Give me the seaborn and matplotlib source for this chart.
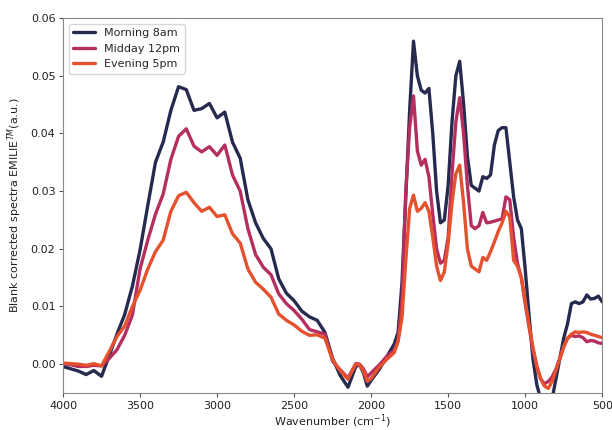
import numpy as np
import pandas as pd
import matplotlib
matplotlib.use("Agg")
import matplotlib.pyplot as plt
import seaborn as sns

# nombres d'onde (cm-1)
wavenumber = [4000, 3950, 3900, 3850, 3800, 3750, 3700, 3650, 3600, 3550,
              3500, 3450, 3400, 3350, 3300, 3250, 3200, 3150, 3100, 3050,
              3000, 2950, 2900, 2850, 2800, 2750, 2700, 2650, 2600, 2550,
              2500, 2450, 2400, 2350, 2300, 2250, 2200, 2150, 2100, 2075,
              2050, 2025, 2000, 1950, 1900, 1850, 1825, 1800, 1775, 1750,
              1725, 1700, 1675, 1650, 1625, 1600, 1575, 1550, 1525, 1500,
              1475, 1450, 1425, 1400, 1375, 1350, 1325, 1300, 1275, 1250,
              1225, 1200, 1175, 1150, 1125, 1100, 1075, 1050, 1025, 1000,
              975, 950, 925, 900, 875, 850, 825, 800, 775, 750,
              725, 700, 675, 650, 625, 600, 575, 550, 525, 500]

morning = [-0.0004, -0.0008, -0.0012, -0.0018, -0.0011, -0.0021, 0.0015, 0.0052, 0.0086, 0.0135,
           0.0198, 0.0275, 0.0350, 0.0385, 0.0440, 0.0481, 0.0476, 0.0440, 0.0443, 0.0452,
           0.0427, 0.0437, 0.0385, 0.0357, 0.0285, 0.0245, 0.0218, 0.0200, 0.0148, 0.0123,
           0.0110, 0.0092, 0.0082, 0.0076, 0.0055, 0.0010, -0.0020, -0.0040, -0.0004, -0.0001,
           -0.0015, -0.0038, -0.0028, -0.0010, 0.0012, 0.0035, 0.0055, 0.0140, 0.0290, 0.0440,
           0.0560, 0.0500, 0.0475, 0.0470, 0.0478, 0.0400, 0.0300, 0.0245, 0.0250, 0.0310,
           0.0420, 0.0500, 0.0525, 0.0452, 0.0360, 0.0310, 0.0305, 0.0300, 0.0325, 0.0322,
           0.0328, 0.0380, 0.0405, 0.0410, 0.0410, 0.0350, 0.0290, 0.0250, 0.0235, 0.0165,
           0.0085, 0.0010, -0.0035, -0.0060, -0.0075, -0.0080, -0.0060, -0.0025, 0.0010, 0.0045,
           0.0070, 0.0105, 0.0108, 0.0105, 0.0108, 0.0120, 0.0113, 0.0114, 0.0118, 0.0108]

midday = [0.0001, -0.0001, -0.0004, -0.0004, -0.0002, -0.0003, 0.0010, 0.0025, 0.0050, 0.0085,
          0.0165, 0.0215, 0.0260, 0.0295, 0.0355, 0.0395, 0.0408, 0.0378, 0.0368, 0.0377,
          0.0362, 0.0380, 0.0328, 0.0300, 0.0235, 0.0190, 0.0168, 0.0155, 0.0122, 0.0105,
          0.0093, 0.0078, 0.0060, 0.0056, 0.0052, 0.0005, -0.0010, -0.0024, 0.0001, 0.0000,
          -0.0008, -0.0022, -0.0015, -0.0002, 0.0013, 0.0024, 0.0040, 0.0110, 0.0300, 0.0410,
          0.0465, 0.0370, 0.0345, 0.0355, 0.0325, 0.0260, 0.0200, 0.0175, 0.0180, 0.0220,
          0.0330, 0.0420, 0.0462, 0.0400, 0.0310, 0.0240, 0.0235, 0.0240, 0.0263, 0.0245,
          0.0246, 0.0248, 0.0250, 0.0252, 0.0290, 0.0285, 0.0220, 0.0175, 0.0150, 0.0105,
          0.0065, 0.0025, -0.0005, -0.0025, -0.0034, -0.0030, -0.0022, -0.0008, 0.0010, 0.0030,
          0.0045, 0.0050, 0.0048, 0.0049, 0.0046, 0.0039, 0.0041, 0.0040, 0.0037, 0.0036]

evening = [0.0002, 0.0001, 0.0000, -0.0002, 0.0001, -0.0003, 0.0022, 0.0048, 0.0066, 0.0100,
           0.0128, 0.0165, 0.0195, 0.0215, 0.0265, 0.0292, 0.0298, 0.0280, 0.0265, 0.0272,
           0.0256, 0.0259, 0.0226, 0.0210, 0.0165, 0.0142, 0.0130, 0.0116, 0.0087, 0.0076,
           0.0068, 0.0057, 0.0050, 0.0051, 0.0045, 0.0008, -0.0012, -0.0026, 0.0000, -0.0001,
           -0.0012, -0.0030, -0.0025, -0.0006, 0.0008, 0.0020, 0.0040, 0.0080, 0.0180, 0.0270,
           0.0293, 0.0265, 0.0270, 0.0280, 0.0265, 0.0220, 0.0170, 0.0145, 0.0160, 0.0210,
           0.0280, 0.0330, 0.0345, 0.0280, 0.0200, 0.0170, 0.0165, 0.0160, 0.0185, 0.0180,
           0.0195, 0.0212, 0.0230, 0.0245, 0.0265, 0.0255, 0.0180, 0.0170, 0.0150, 0.0110,
           0.0068, 0.0030, -0.0002, -0.0025, -0.0038, -0.0042, -0.0030, -0.0010, 0.0010, 0.0030,
           0.0045, 0.0052, 0.0056, 0.0055, 0.0056, 0.0055, 0.0052, 0.0050, 0.0048, 0.0046]

labels = ["Morning 8am", "Midday 12pm", "Evening 5pm"]
colors = ["#272a4f", "#b52e5f", "#e5512d"]

# On passe les données au format long pour seaborn
frames = []
for lab, vals in zip(labels, [morning, midday, evening]):
    frames.append(pd.DataFrame({"wavenumber": wavenumber, "value": vals, "spectre": lab}))
data = pd.concat(frames, ignore_index=True)

sns.set_style("ticks")
plt.rcParams['font.family'] = ['DejaVu Sans']
plt.rcParams['font.size'] = 8

fig = plt.figure(figsize=(6.12, 4.30), dpi=100)
ax = fig.add_axes([0.103, 0.086, 0.881, 0.872])

sns.lineplot(data=data, x="wavenumber", y="value", hue="spectre",
             palette=dict(zip(labels, colors)), linewidth=2.4, ax=ax, estimator=None)

ax.set_xlim(4000, 500)
ax.set_ylim(-0.005, 0.06)
ax.set_xticks([4000, 3500, 3000, 2500, 2000, 1500, 1000, 500])
ax.set_yticks([0.00, 0.01, 0.02, 0.03, 0.04, 0.05, 0.06])
ax.set_yticklabels(["0.00", "0.01", "0.02", "0.03", "0.04", "0.05", "0.06"])
ax.tick_params(labelsize=8, colors="#222222", length=3, pad=2.5)
ax.tick_params(axis="both", color="#555555")
ax.set_xlabel("Wavenumber (cm$^{-1}$)", color="#222222", fontsize=8, labelpad=1)
ax.set_ylabel("Blank corrected spectra EMILIE$^{TM}$(a.u.)", color="#222222", fontsize=8, labelpad=5)

for sp in ax.spines.values():
    sp.set_color("#888888")

leg = ax.legend(loc="upper left", frameon=True, fontsize=8)
leg.get_frame().set_edgecolor("#cccccc")

fig.savefig("out.png", dpi=100)
